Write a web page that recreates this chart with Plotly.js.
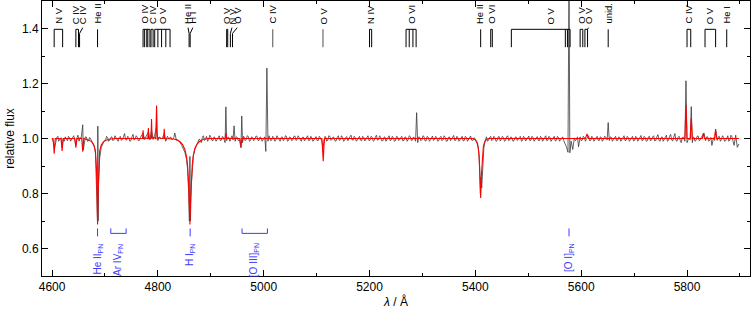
<!DOCTYPE html>
<html><head><meta charset="utf-8">
<script src="https://cdn.plot.ly/plotly-3.0.1.min.js"></script>
<style>html,body{margin:0;padding:0;background:#fff}#chart{width:751px;height:309px}</style>
</head><body><div id="chart"></div>
<script>
// observed spectrum [wavelength (Å), relative flux]
const observed = [
[4600,1.000],[4602,0.992],[4603,0.985],[4605,0.968],[4607,0.995],[4609,1.004],[4611,1.008],[4612.5,0.990],[4614,0.995],[4617,1.003],[4619,0.968],[4621,0.998],[4623,0.990],[4625,1.006],
[4627,0.998],[4629,0.992],[4631,1.008],[4633,1.004],[4635,0.990],[4637,0.996],[4639,1.002],[4641,1.010],[4643,0.995],[4645,0.975],[4647,1.002],[4649,1.012],[4651,0.990],[4653,1.004],[4655,1.000],[4658,1.050],[4659,0.958],
[4661,0.995],[4663,1.006],[4665,1.005],[4667,0.990],[4669,0.992],[4671,1.004],[4673,0.998],[4675,0.990],[4677,0.985],[4680,0.970],[4682,0.945],[4684,0.860],[4685,0.760],[4686,0.690],
[4686.5,1.045],[4687,0.700],[4688,0.850],[4690,0.930],[4693,0.968],[4695,0.975],[4697,0.985],[4699,0.993],[4701,0.992],[4703,1.008],[4705,1.003],[4707,0.990],[4709,0.994],[4711,1.004],[4713,1.006],
[4715,0.992],[4717,0.996],[4719,1.010],[4721,1.002],[4723,0.994],[4725,0.990],[4727,1.004],[4729,1.008],[4731,0.993],[4733,0.997],[4735,1.006],[4737,1.018],[4739,0.996],[4741,0.994],[4743,1.008],[4745,1.004],[4747,0.990],[4749,0.992],[4751,1.006],[4753,1.015],
[4755,0.994],[4757,0.998],[4759,1.010],[4761,1.005],[4763,0.992],[4765,0.993],[4767,1.004],[4769,1.010],[4772,1.020],[4775,0.996],[4778,1.008],[4782,1.025],[4785,0.995],[4788,1.030],
[4791,0.997],[4794,1.012],[4797,1.040],[4800,0.993],[4803,1.006],[4806,0.998],[4809,1.004],[4812,1.018],[4815,0.990],[4818,1.008],
[4821,0.998],[4824,1.006],[4827,0.995],[4830,1.003],[4832,1.020],[4835,0.994],[4838,0.993],[4841,0.988],[4845,0.975],[4848,0.965],
[4851,0.950],[4854,0.925],[4856,0.890],[4858,0.810],[4859.5,0.700],[4860.5,0.935],[4861.5,0.700],[4863,0.830],[4865,0.905],[4867,0.935],
[4870,0.960],[4873,0.975],[4876,0.985],[4878,0.998],[4880,0.995],[4882,0.985],[4884,1.004],[4886,1.010],[4888,0.993],[4890,0.998],[4892,1.008],[4894,0.990],[4896,0.996],[4898,1.012],[4900,1.006],[4902,0.993],[4904,0.992],
[4906,1.006],[4908,1.003],[4910,0.990],[4912,0.996],[4914,1.004],[4916,1.010],[4918,0.992],[4920,0.994],[4922,1.008],[4924,1.004],[4927,0.985],[4928.5,1.115],[4930,0.992],[4932,1.004],[4934,1.005],[4936,0.990],[4937,0.995],
[4940,1.010],[4942,0.995],[4944,1.046],[4946,0.990],[4948,1.006],[4950,1.004],[4952,0.992],[4954,0.996],[4957,0.966],[4958.5,1.082],[4960,0.985],[4962,1.008],[4963,1.005],[4965,0.992],[4967,0.996],
[4969,1.010],[4971,1.007],[4973,0.990],[4975,0.993],[4977,1.006],[4979,1.004],[4981,0.992],[4983,0.997],[4985,1.008],[4987,1.009],[4989,0.994],[4991,0.992],[4993,1.006],[4995,1.003],[4997,0.990],[4999,0.996],[5002,1.006],[5004,0.953],
[5006,1.256],[5008,0.990],[5010,1.010],[5011,1.006],[5013,0.992],[5015,0.994],[5017,1.008],[5019,1.004],[5021,0.990],[5023,0.996],[5025,1.010],[5027,1.002],[5029,0.994],[5031,0.990],[5033,1.004],[5035,1.006],[5037,0.992],[5039,0.997],
[5041,1.010],[5043,1.008],[5045,0.990],[5047,0.993],[5049,1.006],[5051,1.003],[5053,0.992],[5055,0.995],[5057,1.008],[5059,1.009],[5061,0.993],[5063,0.996],[5065,1.010],[5067,1.004],[5069,0.994],[5071,0.990],[5073,1.004],[5075,1.005],[5077,0.991],[5079,0.997],
[5081,1.006],[5083,1.010],[5085,0.992],[5087,0.994],[5089,1.008],[5091,1.002],[5093,0.990],[5095,0.996],[5097,1.006],[5099,1.007],[5101,0.992],[5103,0.993],[5105,1.008],[5107,1.003],[5110,0.990],[5112,0.962],[5114,0.995],
[5116,1.008],[5117,1.006],[5119,0.990],[5121,0.994],[5123,1.010],[5125,1.008],[5127,0.993],[5129,0.997],[5131,1.006],[5133,1.003],[5135,0.990],[5137,0.992],[5139,1.004],[5141,1.010],[5143,0.993],[5145,0.996],[5147,1.010],[5149,1.004],[5151,0.990],[5153,0.993],
[5155,1.004],[5157,1.007],[5159,0.992],[5161,0.997],[5163,1.006],[5165,1.012],[5167,0.995],[5169,0.994],[5171,1.008],[5173,1.003],[5175,0.990],[5177,0.995],[5179,1.004],[5181,1.008],[5183,0.994],[5185,0.992],[5187,1.008],[5189,1.004],[5191,0.991],[5193,0.997],
[5195,1.004],[5197,1.010],[5199,0.992],[5201,0.994],[5203,1.008],[5205,1.004],[5207,0.990],[5209,0.993],[5211,1.006],[5213,1.012],[5215,0.994],[5217,0.996],[5219,1.010],[5221,1.004],[5223,0.992],[5225,0.991],[5227,1.004],[5229,1.006],[5231,0.990],[5233,0.997],
[5235,1.004],[5237,1.010],[5239,0.992],[5241,0.995],[5243,1.008],[5245,1.003],[5247,0.990],[5249,0.992],[5251,1.008],[5253,1.006],[5255,0.993],[5257,0.996],[5259,1.004],[5261,1.008],[5263,0.991],[5265,0.993],[5267,1.006],[5269,1.004],[5271,0.990],[5273,0.996],
[5275,1.010],[5277,1.007],[5279,0.993],[5281,0.994],[5283,1.006],[5285,1.002],[5287,0.990],[5289,1.094],[5291,0.985],[5293,1.006],[5295,1.004],[5297,0.992],[5299,0.996],[5301,1.010],[5303,1.007],[5305,0.991],[5307,0.992],
[5309,1.008],[5311,1.004],[5313,0.990],[5315,0.995],[5317,1.006],[5319,1.009],[5321,0.993],[5323,0.997],[5325,1.008],[5327,1.003],[5329,0.990],[5331,0.993],[5333,1.004],[5335,1.008],[5337,0.992],[5339,0.996],[5341,1.010],[5343,1.004],[5345,0.990],[5347,0.991],
[5349,1.004],[5351,1.006],[5353,0.992],[5355,0.997],[5357,1.004],[5359,1.011],[5361,0.992],[5363,0.994],[5365,1.008],[5367,1.003],[5369,0.990],[5371,0.996],[5373,1.004],[5375,1.008],[5377,0.991],[5379,0.993],[5381,1.008],[5383,1.004],[5385,0.990],[5387,0.996],
[5389,1.004],[5391,1.009],[5393,0.994],[5395,0.992],[5398,1.003],[5401,0.995],[5404,0.985],[5406,0.960],[5408,0.900],[5409.5,0.800],[5410.5,0.860],[5412,0.820],
[5414,0.905],[5416,0.965],[5418,0.988],[5420,0.996],[5421,1.006],[5423,0.990],[5425,0.994],[5427,1.004],[5429,1.008],[5431,0.992],[5433,0.996],[5435,1.008],[5437,1.003],[5439,0.990],[5441,0.992],[5443,1.006],[5445,1.007],
[5447,0.991],[5449,0.996],[5451,1.008],[5453,1.004],[5455,0.990],[5457,0.993],[5459,1.006],[5461,1.010],[5463,0.992],[5465,0.995],[5467,1.006],[5469,1.003],[5471,0.990],[5473,0.992],[5475,1.004],[5477,1.006],[5479,0.993],[5481,0.996],[5483,1.004],[5485,1.008],
[5487,0.990],[5489,0.993],[5491,1.008],[5493,1.004],[5495,0.991],[5497,0.997],[5499,1.004],[5501,1.009],[5503,0.992],[5505,0.994],[5507,1.008],[5509,1.003],[5511,0.990],[5513,0.995],[5515,1.004],[5517,1.007],[5519,0.993],[5521,0.992],[5523,1.008],[5525,1.004],
[5527,0.990],[5529,0.996],[5531,1.004],[5533,1.010],[5535,0.992],[5537,0.994],[5539,1.008],[5541,1.003],[5543,0.990],[5545,0.997],[5547,1.004],[5549,1.008],[5551,0.991],[5553,0.993],[5555,1.008],[5557,1.004],[5559,0.990],[5561,0.996],[5563,1.004],[5565,1.006],
[5567,0.992],[5569,0.985],[5572,0.970],[5575,0.950],[5577,1.600],[5578.5,0.948],[5581,0.990],[5584,0.960],[5587,1.002],[5589,0.992],[5591,0.996],[5593,1.006],[5595,0.970],
[5598,1.006],[5600,0.992],[5602,0.994],[5604,1.008],[5606,1.004],[5608,0.990],[5610,0.997],[5612,1.004],[5614,1.010],[5616,0.992],[5618,0.993],[5620,1.008],[5622,1.003],[5624,0.990],[5626,0.996],[5628,1.004],[5630,1.008],[5632,0.994],[5634,0.992],
[5636,1.006],[5638,1.004],[5640,0.990],[5642,0.996],[5644,1.008],[5646,1.006],[5649,0.995],[5651,1.058],[5653,0.993],[5655,1.006],[5657,1.004],[5659,0.990],[5661,0.996],[5663,1.004],[5665,1.008],[5667,0.992],[5669,0.993],
[5671,1.006],[5673,1.003],[5675,0.990],[5677,0.997],[5679,1.004],[5681,1.010],[5683,0.992],[5685,0.994],[5687,1.008],[5689,1.004],[5691,0.990],[5693,0.995],[5695,1.004],[5697,1.008],[5699,0.991],[5701,0.993],[5703,1.008],[5705,1.003],[5707,0.990],[5709,0.996],
[5711,1.004],[5713,1.011],[5715,0.992],[5717,0.994],[5719,1.008],[5721,1.004],[5723,0.990],[5725,0.992],[5727,1.006],[5729,1.008],[5731,0.991],[5733,0.996],[5735,1.006],[5737,1.010],[5739,0.991],[5741,0.993],[5743,1.006],[5745,1.014],[5747,0.993],[5749,0.990],
[5751,1.004],[5753,1.006],[5755,0.990],[5757,0.997],[5759,1.006],[5761,1.012],[5763,0.990],[5765,0.993],[5767,1.008],[5769,1.015],[5771,0.994],[5773,0.991],[5775,1.006],[5777,1.018],[5779,0.993],[5781,0.990],[5783,1.004],[5785,1.008],[5787,0.994],[5789,0.985],
[5791,1.004],[5793,1.005],[5796,0.990],[5798,1.210],[5800,0.985],[5803,1.000],[5806,0.995],[5808,1.116],[5810,0.985],[5812,1.006],[5813,1.004],[5815,0.990],[5817,0.993],
[5819,1.008],[5821,1.009],[5823,0.992],[5825,0.995],[5827,1.004],[5829,1.012],[5832,1.020],[5835,0.992],[5837,1.006],[5839,1.006],[5841,0.990],[5843,0.994],[5845,1.004],[5847,0.975],[5850,1.003],[5852,0.993],[5854,1.030],
[5857,0.993],[5859,1.006],[5861,1.008],[5863,0.990],[5865,0.996],[5867,1.010],[5869,1.004],[5871,0.990],[5873,0.992],[5875,1.004],[5877,1.010],[5879,0.990],[5881,0.995],[5883,1.012],[5885,1.006],[5887,0.990],[5889,0.975],[5892,1.012],
[5895,0.968],[5898,0.980]
];
// model spectrum [wavelength (Å), relative flux]
const model = [
[4600,1.0],[4602,1.0],[4604,0.945],[4606,1.0],[4617,1.0],[4619,0.955],[4621,1.0],[4643,1.0],[4645,0.967],[4647,1.0],
[4656,1.0],[4658,0.952],[4660,1.0],[4665,0.998],[4670,0.994],[4675,0.988],[4679,0.976],[4682,0.955],[4684,0.89],[4685,0.80],
[4686,0.687],[4687,0.80],[4688,0.89],[4690,0.955],[4693,0.976],[4697,0.988],[4702,0.994],[4710,0.998],[4720,1.0],[4771,1.0],
[4772,1.03],[4773,1.0],[4775,1.002],[4778,1.0],[4781,1.0],[4782,1.038],[4783,1.0],[4786,1.002],[4787,1.0],[4788,1.071],
[4789,1.0],[4792,1.004],[4796,1.0],[4797.5,1.12],[4799,1.0],[4802,1.003],[4806,1.0],[4811,1.0],[4812,1.035],[4813,1.0],
[4820,1.0],[4830,0.998],[4836,0.995],[4842,0.988],[4847,0.977],[4851,0.96],[4854,0.935],[4856,0.905],[4858,0.84],[4859.5,0.76],
[4860.5,0.687],[4861.5,0.76],[4863,0.84],[4865,0.905],[4867,0.94],[4870,0.965],[4874,0.98],[4879,0.99],[4886,0.997],[4895,1.0],
[4927,1.0],[4928.5,1.02],[4930,1.0],[4955,1.0],[4957,0.97],[4959,1.0],[5110,1.0],[5111.5,0.96],[5112.5,0.917],[5113.5,0.96],
[5115,1.0],[5395,1.0],[5400,0.995],[5403,0.985],[5405,0.97],[5407,0.94],[5408.5,0.87],[5410,0.784],[5411.5,0.87],[5413,0.94],
[5415,0.97],[5417,0.985],[5420,0.995],[5425,1.0],[5608,1.0],[5611,1.017],[5614,1.0],[5796,1.0],[5798,1.122],[5800,1.0],
[5806,1.0],[5808,1.074],[5810,1.0],[5829,1.0],[5831,1.02],[5833,1.0],[5852,1.0],[5854,1.034],[5856,1.0],[5898,1.0]
];
// line identifications (top)
const idLabels = ["N V","C IV","C IV","He II","O IV","C IV","O V","He II","H I","O V","N V","O V","C IV","O V","N IV","O VI","He II","O VI","O V","O V","O V","unid.","C IV","O V","He I"];
const idLabelWave = [4612,4645,4658,4686,4775,4790,4809,4857,4866,4930,4940,4950,5016,5112,5202,5279,5409,5430,5541,5600,5614,5651,5802,5843,5874];
const idLineWave = [[4604,4620],[4645,4650],[4652],[4686],[4772,4775,4779,4781,4785],[4787,4791],[4794,4800,4807,4815,4823],[4859],[4861],[4930,4932],[4937],[4941],[5017],[5112],[5200,5204],[5269,5275,5282,5288],[5410],[5429,5432],[5468,5570,5574,5579],[5598,5603],[5607,5612],[5651],[5800,5807],[5834,5854],[5875]];
const idGrey = ["C IV@5016","O V@5112"];
// nebular (PN) lines (bottom)
const pnLabels = ["He II<sub>PN</sub>","Ar IV<sub>PN</sub>","H I<sub>PN</sub>","[O III]<sub>PN</sub>","[O I]<sub>PN</sub>"];
const pnWave = [[4686],[4711,4740],[4861],[4959,5007],[5577]];

const FONT = "Liberation Sans, Arial, sans-serif";
const BLUE = "#3c3cff";
const yText = 1.413, yBar = 1.397, ySlant = 1.382, yBot = 1.332;
const pnTop = 0.673, pnBar = 0.655, pnDashBot = 0.644, pnLab = 0.622;

const traces = [];
traces.push({x: observed.map(p=>p[0]), y: observed.map(p=>p[1]), type:'scatter', mode:'lines',
  line:{color:'#3a3a3a', width:0.8}, hoverinfo:'skip'});
traces.push({x: model.map(p=>p[0]), y: model.map(p=>p[1]), type:'scatter', mode:'lines',
  line:{color:'#ff0000', width:1.1}, hoverinfo:'skip'});

function idPaths(wantGrey){
  const xs=[], ys=[];
  idLabels.forEach((lab,i)=>{
    const key = lab+"@"+idLabelWave[i];
    if ((idGrey.indexOf(key)>=0) !== wantGrey) return;
    const L = idLineWave[i], lx = idLabelWave[i];
    const mn = Math.min(...L), mx = Math.max(...L);
    if (L.length===1){
      if (Math.abs(L[0]-lx) < 1.5){ xs.push(L[0],L[0],null); ys.push(yBar,yBot,null); }
      else { xs.push(lx,L[0],L[0],null); ys.push(yBar+0.006,ySlant,yBot,null); }
      return;
    }
    xs.push(mn,mx,null); ys.push(yBar,yBar,null);
    if (lx < mn-1.5 || lx > mx+1.5){
      const cx = lx < mn ? mn : mx;
      xs.push(lx,cx,null); ys.push(yBar+0.006,yBar,null);
    }
    L.forEach(w=>{ xs.push(w,w,null); ys.push(yBar,yBot,null); });
  });
  return {xs, ys};
}
const pBlack = idPaths(false), pGrey = idPaths(true);
traces.push({x:pBlack.xs, y:pBlack.ys, type:'scatter', mode:'lines', line:{color:'#000', width:1}, hoverinfo:'skip'});
traces.push({x:pGrey.xs, y:pGrey.ys, type:'scatter', mode:'lines', line:{color:'#777', width:1.3}, hoverinfo:'skip'});

const bx=[], by=[];
pnWave.forEach(W=>{
  if (W.length===1){ bx.push(W[0],W[0],null); by.push(pnTop,pnDashBot,null); }
  else { bx.push(W[0],W[0],W[1],W[1],null); by.push(pnTop,pnBar,pnBar,pnTop,null); }
});
traces.push({x:bx, y:by, type:'scatter', mode:'lines', line:{color:BLUE, width:1}, hoverinfo:'skip'});

const annotations = [];
idLabels.forEach((lab,i)=>{
  annotations.push({x:idLabelWave[i], y:yText, xref:'x', yref:'y', text:lab, showarrow:false,
    textangle:-90, xanchor:'center', yanchor:'bottom', borderpad:0,
    font:{family:FONT, size:9.5, color:'#000'}});
});
pnLabels.forEach((lab,i)=>{
  const W = pnWave[i];
  const cx = W.length===1 ? W[0] : (W[0]+W[1])/2;
  annotations.push({x:cx, y:pnLab, xref:'x', yref:'y', text:lab, showarrow:false,
    textangle:-90, xanchor:'center', yanchor:'top', borderpad:0,
    font:{family:FONT, size:10, color:BLUE}});
});

const axisCommon = {showline:true, linecolor:'#000', linewidth:1, mirror:'ticks', ticks:'inside',
  tickcolor:'#000', tickwidth:1, showgrid:false, zeroline:false,
  tickfont:{family:FONT, size:12, color:'#000'}};

const layout = {
  width:751, height:309, paper_bgcolor:'#fff', plot_bgcolor:'#fff',
  margin:{l:42, r:1, t:1, b:33, pad:0}, showlegend:false,
  font:{family:FONT, size:12, color:'#000'},
  xaxis: Object.assign({}, axisCommon, {range:[4581,5919], dtick:200, tick0:0, ticklen:6,
    minor:{ticks:'inside', dtick:100, ticklen:3, tickcolor:'#000', showgrid:false},
    title:{text:'<i>λ</i> / Å', font:{family:FONT, size:12}, standoff:6}}),
  yaxis: Object.assign({}, axisCommon, {range:[0.5,1.5], dtick:0.2, tick0:0, ticklen:6, tickformat:'.1f',
    minor:{ticks:'inside', dtick:0.1, ticklen:3, tickcolor:'#000', showgrid:false},
    title:{text:'relative flux', font:{family:FONT, size:12}, standoff:4}}),
  annotations
};
Plotly.newPlot('chart', traces, layout, {staticPlot:true, displayModeBar:false});
</script></body></html>
